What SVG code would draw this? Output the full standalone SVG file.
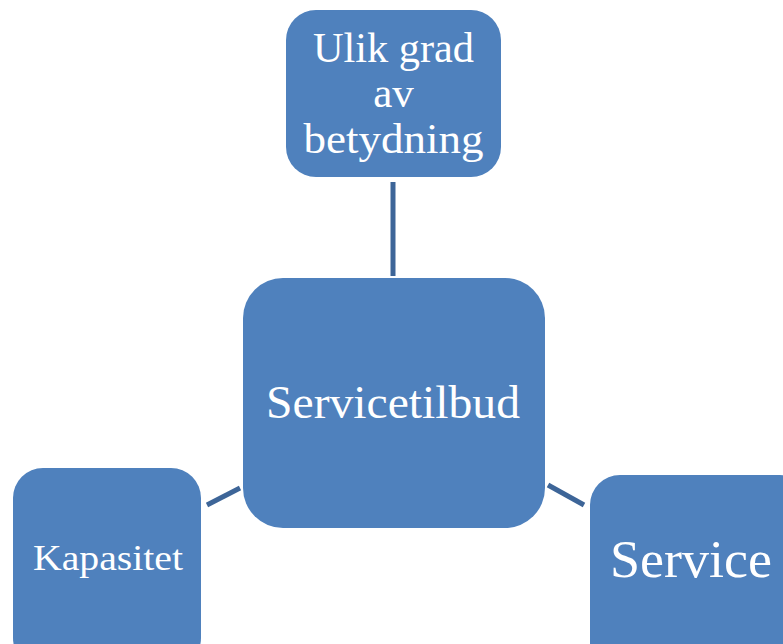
<svg xmlns="http://www.w3.org/2000/svg" width="783" height="644" viewBox="0 0 783 644">
<style>
.box{fill:#4F81BD;}
.lbl{fill:#FFFFFF;font-family:"Liberation Serif","DejaVu Serif",serif;text-anchor:middle;}
.conn{stroke:#3D6598;stroke-width:5;fill:none;}
</style>
<rect width="783" height="644" fill="#FFFFFF"/>
<g id="connectors">
<line class="conn" x1="393" y1="182" x2="393" y2="276"/>
<line class="conn" x1="207" y1="505" x2="240" y2="488"/>
<line class="conn" x1="548" y1="485" x2="584" y2="505"/>
</g>
<g id="node-top">
<rect class="box" x="286" y="10" width="215" height="167" rx="30" ry="30"/>
<text class="lbl" x="393.5" y="62" font-size="43" textLength="161" lengthAdjust="spacingAndGlyphs">Ulik grad</text>
<text class="lbl" x="393.5" y="107" font-size="43">av</text>
<text class="lbl" x="393.5" y="153" font-size="43" textLength="180" lengthAdjust="spacingAndGlyphs">betydning</text>
</g>
<g id="node-center">
<rect class="box" x="243" y="278" width="302" height="250" rx="40" ry="40"/>
<text class="lbl" x="393" y="418" font-size="46" textLength="254" lengthAdjust="spacingAndGlyphs">Servicetilbud</text>
</g>
<g id="node-left">
<rect class="box" x="13" y="468" width="188" height="200" rx="30" ry="30"/>
<text class="lbl" x="108" y="570" font-size="35" textLength="150" lengthAdjust="spacingAndGlyphs">Kapasitet</text>
</g>
<g id="node-right">
<rect class="box" x="590" y="475" width="220" height="200" rx="30" ry="30"/>
<text class="lbl" x="691" y="577" font-size="52" textLength="162" lengthAdjust="spacingAndGlyphs">Service</text>
</g>
</svg>
